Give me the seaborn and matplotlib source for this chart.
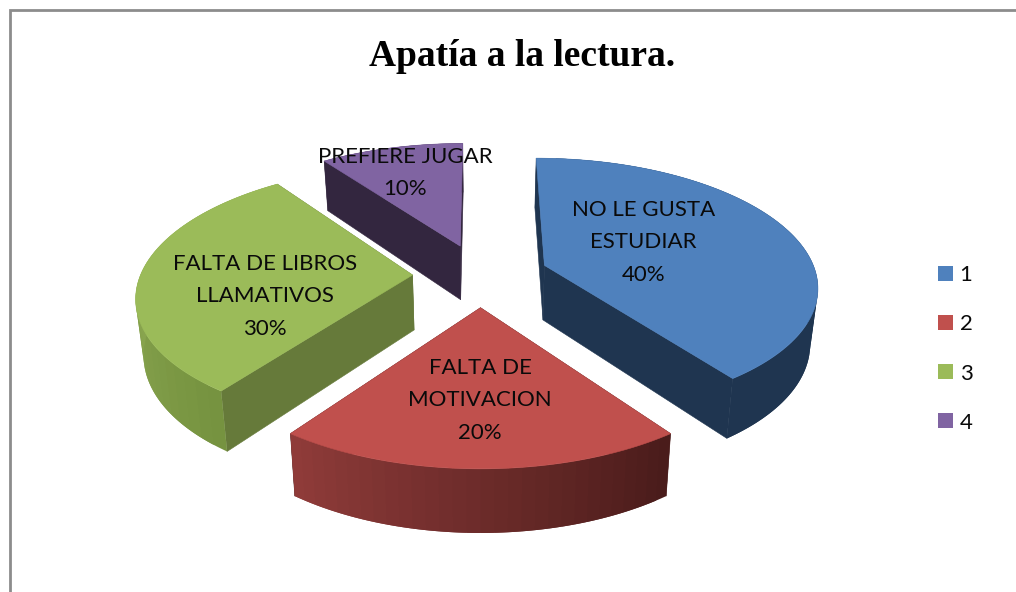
import numpy as np
import matplotlib
matplotlib.use("Agg")
import matplotlib.pyplot as plt
from matplotlib.colors import to_rgb
from matplotlib.patches import Patch, Polygon
import seaborn as sns

TITLE = "Apatía a la lectura."
values = [40, 20, 30, 10]
categories = ["NO LE GUSTA\nESTUDIAR", "FALTA DE\nMOTIVACION",
              "FALTA DE LIBROS\nLLAMATIVOS", "PREFIERE JUGAR"]
legend_labels = ["1", "2", "3", "4"]
top_colors = ["#4F81BD", "#C0504D", "#9BBB59", "#8064A2"]
face_colors = ["#1F3550", "#4A1C1B", "#667A3A", "#33263F"]
rim_start = ["#1F3550", "#4A1C1B", "#769340", "#33263F"]
rim_end = ["#1F3550", "#8F3B39", "#8AA650", "#33263F"]
label_xy = [(643.5, 242.5), (480, 400.5), (265, 296.5), (405, 173)]

sns.set_theme(style="white")
palette = sns.color_palette(top_colors)
plt.rcParams["font.family"] = ["Lato", "DejaVu Sans"]

# projection of the tilted pie plane onto the picture
CX, CY, RX, RY, K = 480.5, 275.0, 272.0, 126.0, 0.15
BASE_SHRINK, DEPTH, DEPTH_SLOPE = 0.977, 55.0, 0.047


def top(u, v):
    w = 1 + K * np.asarray(v)
    return CX + RX * np.asarray(u) / w, CY - RY * np.asarray(v) / w


def base(u, v):
    x, y = top(u, v)
    return CX + (x - CX) * BASE_SHRINK, y + DEPTH + (y - CY) * DEPTH_SLOPE


fig, ax = plt.subplots(figsize=(10.16, 5.92), dpi=100)
fig.subplots_adjust(0, 0, 1, 1)
wedges, _ = ax.pie(values, explode=[0.25] * 4, startangle=90, counterclock=False,
                   colors=palette)
geometry = [(w.center, w.theta1, w.theta2) for w in wedges]
for w in wedges:
    w.remove()
ax.set_aspect("auto")
ax.set_xlim(0, 1016)
ax.set_ylim(592, 0)
ax.axis("off")

# painter's order: back slice first
for i in [3, 2, 0, 1]:
    (u0, v0), t1, t2 = geometry[i]
    t = np.radians(np.linspace(t2, t1, 121))  # clockwise
    u = u0 + np.cos(t)
    v = v0 + np.sin(t)
    tx, ty = top(u, v)
    bx, by = base(u, v)
    ax0, ay0 = top(u0, v0)
    bx0, by0 = base(u0, v0)
    for a, b, c, d in [((ax0, ay0), (tx[0], ty[0]), (bx[0], by[0]), (bx0, by0)),
                       ((ax0, ay0), (tx[-1], ty[-1]), (bx[-1], by[-1]), (bx0, by0))]:
        ax.add_patch(Polygon([a, b, c, d], closed=True, fc=face_colors[i],
                             ec=face_colors[i], lw=0.4, zorder=2))
    c0, c1 = np.array(to_rgb(rim_start[i])), np.array(to_rgb(rim_end[i]))
    n = len(t) - 1
    step = 4
    for j in range(0, n, step):
        f = j / max(n - step, 1)
        if i == 2:  # green brightens toward the far left of the rim
            f = min(f * 2, 1.0)
        col = c0 + (c1 - c0) * f
        # each strip runs on under the next one, so no seams show
        e = min(j + 2 * step, n)
        ax.add_patch(Polygon(list(zip(tx[j:e + 1], ty[j:e + 1]))
                             + list(zip(bx[j:e + 1][::-1], by[j:e + 1][::-1])),
                             closed=True, fc=col, ec="none", zorder=2))
    pts = [(ax0, ay0)] + list(zip(tx, ty))
    ax.add_patch(Polygon(pts, closed=True, fc=palette[i], ec=palette[i], lw=0.4, zorder=3))

for label, val, (lx, ly) in zip(categories, values, label_xy):
    ax.text(lx, ly, f"{label}\n{val}%", ha="center", va="center", fontsize=16,
            color="#0A0A0A", linespacing=1.78, zorder=5)

ax.text(522, 56, TITLE, ha="center", va="center", fontsize=27, fontweight="bold",
        family="Liberation Serif", color="black")

# outer chart frame, cut off by the picture on the right and bottom
ax.plot([10, 10, 1016], [592, 9.5, 9.5], color="#8C8C8C", lw=2, clip_on=False,
        solid_joinstyle="miter", zorder=1)

handles = [Patch(facecolor=c, edgecolor="none") for c in palette]
ax.legend(handles, legend_labels, loc="center left", bbox_to_anchor=(938 / 1016, 1 - 349 / 592),
          frameon=False, fontsize=16, handlelength=0.675, handleheight=0.675,
          handletextpad=0.3, labelspacing=1.31, borderpad=0, borderaxespad=0,
          labelcolor="#0A0A0A")

fig.savefig("out.png", dpi=100, facecolor="white")
